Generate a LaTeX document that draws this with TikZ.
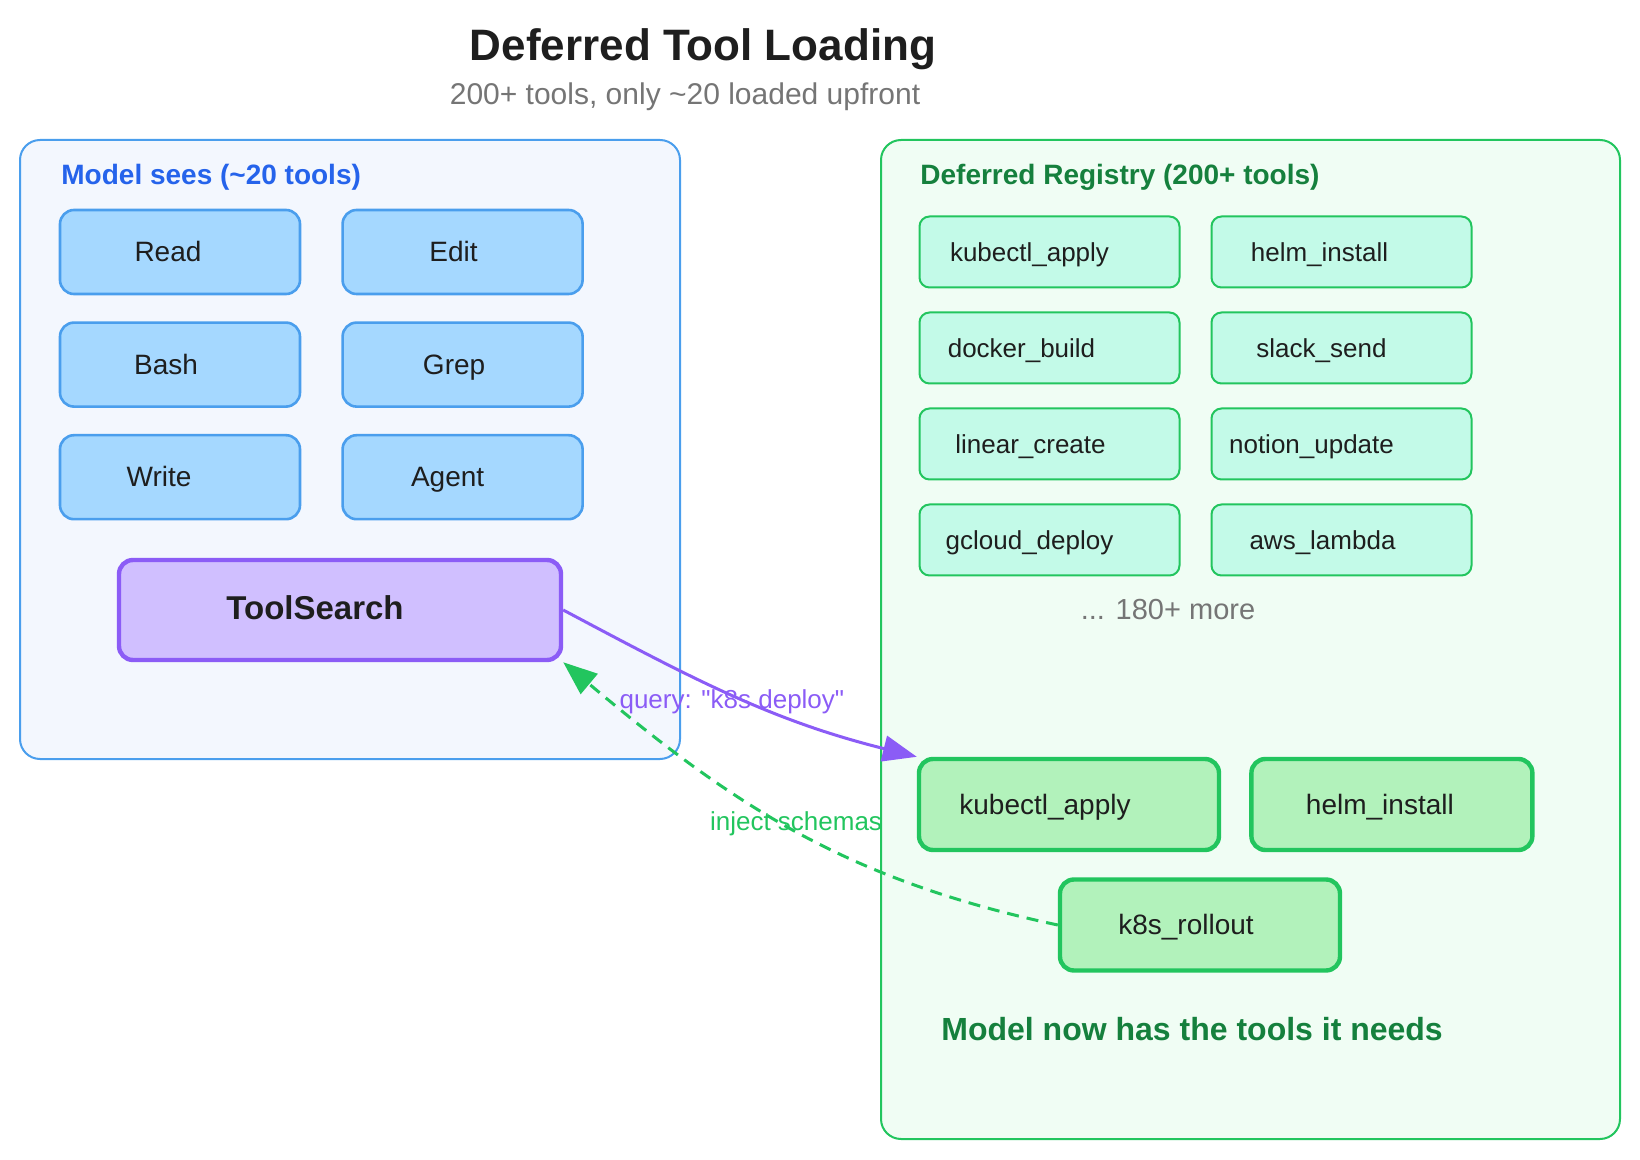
\documentclass[tikz,border=0pt]{standalone}
\usepackage{fontspec}
\setmainfont{Liberation Sans}
\usepackage{xcolor}
\definecolor{cInk}{HTML}{1E1E1E}
\definecolor{cMuted}{HTML}{757575}
\definecolor{cBlue}{HTML}{4A9EED}
\definecolor{cBlueText}{HTML}{2563EB}
\definecolor{cBlueFill}{HTML}{A5D8FF}
\definecolor{cBluePane}{HTML}{F3F7FE}
\definecolor{cPurple}{HTML}{8B5CF6}
\definecolor{cPurpleFill}{HTML}{D0BFFF}
\definecolor{cGreen}{HTML}{22C55E}
\definecolor{cGreenText}{HTML}{15803D}
\definecolor{cGreenPane}{HTML}{F0FDF4}
\definecolor{cMint}{HTML}{C3FAE8}
\definecolor{cLoaded}{HTML}{B2F2BB}
\usepackage{tikz}
\usetikzlibrary{positioning,arrows.meta}
% labels sit a little left of the box centre
\newcommand{\nudgeleft}[1]{\hspace*{-#1}}
\tikzset{
  pane/.style={rounded corners=10pt,line width=1pt,inner sep=0pt},
  pane-model/.style={pane,draw=cBlue,fill=cBluePane,
    minimum width=330pt,minimum height=309.5pt},
  pane-registry/.style={pane,draw=cGreen,fill=cGreenPane,
    minimum width=369.5pt,minimum height=499.5pt},
  pane-title/.style={anchor=west,inner sep=0pt,font=\fontsize{14}{16}\selectfont\bfseries},
  box/.style={inner sep=0pt,text=cInk,text height=0.95em,text depth=0pt},
  node-tool/.style={box,draw=cBlue,fill=cBlueFill,line width=1.3pt,rounded corners=7pt,
    minimum width=120pt,minimum height=42pt,font=\fontsize{14}{16}\selectfont},
  node-search/.style={box,draw=cPurple,fill=cPurpleFill,line width=2.2pt,rounded corners=7pt,
    minimum width=221pt,minimum height=50pt,font=\fontsize{16.5}{19}\selectfont\bfseries},
  node-reg/.style={box,draw=cGreen,fill=cMint,line width=1pt,rounded corners=5pt,
    minimum width=130pt,minimum height=35.5pt,font=\fontsize{13}{15}\selectfont},
  node-loaded/.style={box,draw=cGreen,fill=cLoaded,line width=2.2pt,rounded corners=7pt,
    minimum width=140pt,minimum height=45.5pt,font=\fontsize{14}{16}\selectfont},
  edge-label/.style={font=\fontsize{13}{15}\selectfont},
  arrow-query/.style={-{Triangle[length=17pt,width=13pt]},line width=1.5pt,draw=cPurple},
  arrow-inject/.style={-{Triangle[length=17pt,width=13pt]},line width=1.5pt,draw=cGreen,
    dash pattern=on 6pt off 4pt},
}

\begin{document}
\begin{tikzpicture}[x=0.5pt,y=-0.5pt]
  \useasboundingbox (0,0) rectangle (1640,1160);
  \node[font=\fontsize{22}{26}\selectfont\bfseries,text=cInk] (title) at (703,49) {Deferred Tool Loading};
  \node[font=\fontsize{15}{18}\selectfont,text=cMuted] (subtitle) at (685,97) {200+ tools, only \textasciitilde20 loaded upfront};

  % what the model sees
  \node[pane-model] (model) at (350,449.5) {};
  \node[pane-title,text=cBlueText] (modelhead) at (61,177) {Model sees (\textasciitilde20 tools)};
  \node[node-tool] (read) at (180,252) {\nudgeleft{12pt}Read};
  \node[node-tool,right=20pt of read]  (edit)  {\nudgeleft{9pt}Edit};
  \node[node-tool,below=13pt of read]  (bash)  {\nudgeleft{14pt}Bash};
  \node[node-tool,right=20pt of bash]  (grep)  {\nudgeleft{8.5pt}Grep};
  \node[node-tool,below=13pt of bash]  (write) {\nudgeleft{21pt}Write};
  \node[node-tool,right=20pt of write] (agent) {\nudgeleft{15pt}Agent};
  \node[node-search] (search) at (340,610) {\nudgeleft{25pt}ToolSearch};

  % deferred registry
  \node[pane-registry] (registry) at (1250.5,639.5) {};
  \node[pane-title,text=cGreenText] (reghead) at (920,177) {Deferred Registry (200+ tools)};
  \node[node-reg] (kube) at (1049.5,252) {\nudgeleft{20pt}kubectl\_apply};
  \node[node-reg,right=15pt of kube]     (helm)   {\nudgeleft{22pt}helm\_install};
  \node[node-reg,below=11.5pt of kube]   (docker) {\nudgeleft{28pt}docker\_build};
  \node[node-reg,right=15pt of docker]   (slack)  {\nudgeleft{20pt}slack\_send};
  \node[node-reg,below=11.5pt of docker] (linear) {\nudgeleft{19pt}linear\_create};
  \node[node-reg,right=15pt of linear]   (notion) {\nudgeleft{30pt}notion\_update};
  \node[node-reg,below=11.5pt of linear] (gcloud) {\nudgeleft{20pt}gcloud\_deploy};
  \node[node-reg,right=15pt of gcloud]   (lambda) {\nudgeleft{19pt}aws\_lambda};
  \node[font=\fontsize{14.5}{17}\selectfont,text=cMuted] (more) at (1168,610) {... 180+ more};

  % loaded on demand
  \node[node-loaded,minimum width=150pt] (kload) at (1069,804.5) {\nudgeleft{24pt}kubectl\_apply};
  \node[node-loaded,minimum width=140.5pt,right=14pt of kload] (hload) {\nudgeleft{12pt}helm\_install};
  \node[node-loaded] (rollout) at (1200,925) {\nudgeleft{14pt}k8s\_rollout};
  \node[anchor=west,inner sep=0pt,font=\fontsize{16}{19}\selectfont\bfseries,text=cGreenText] (done) at (941,1029) {Model now has the tools it needs};

  \draw[arrow-query] (search.east) to[out=-28,in=166]
    node[edge-label,text=cPurple,pos=0.49,yshift=-3.7pt]
      {query: \textquotedbl k8s deploy\textquotedbl} (kload.north west);
  \draw[arrow-inject] (rollout.west) to[out=168,in=-40]
    node[edge-label,text=cGreen,xshift=1.5pt,yshift=2.6pt] {inject schemas} (search.south east);
\end{tikzpicture}
\end{document}
